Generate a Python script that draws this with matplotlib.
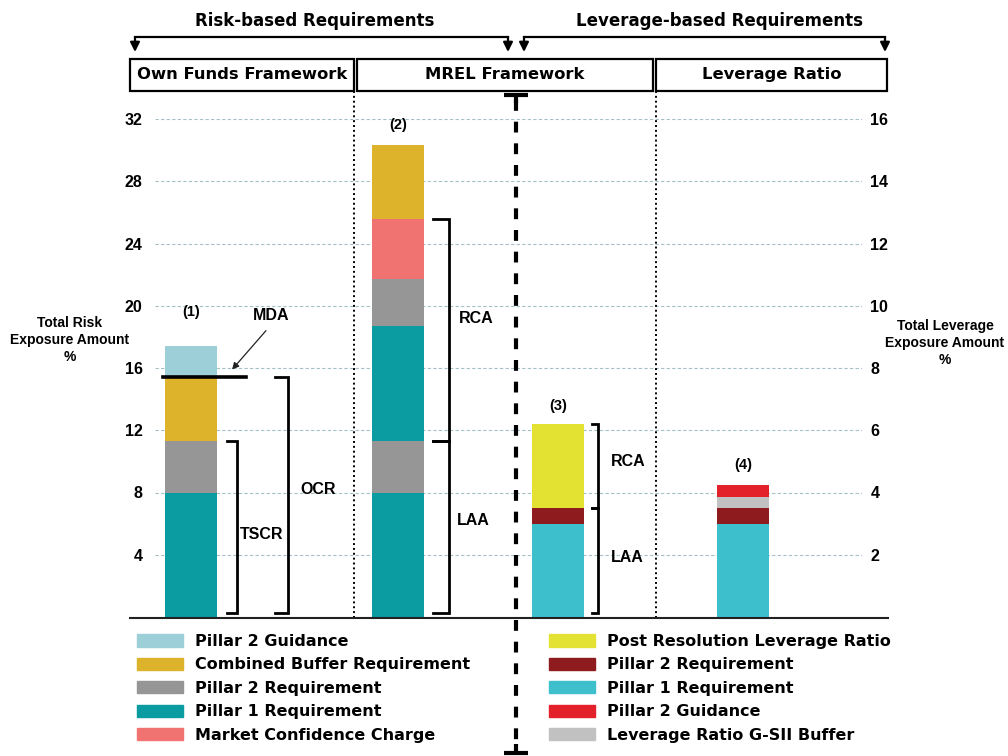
import numpy as np
import matplotlib
matplotlib.use("Agg")
import matplotlib.pyplot as plt
from matplotlib.patches import Rectangle, Patch

# stacked requirement layers, bottom to top
ofr_layers = ["Pillar 1 Requirement", "Pillar 2 Requirement",
              "Combined Buffer Requirement", "Pillar 2 Guidance"]
ofr_values = [8.0, 3.3, 4.1, 2.0]

mrel_layers = ["Pillar 1 Requirement", "Pillar 2 Requirement",
               "Pillar 1 Requirement", "Pillar 2 Requirement",
               "Market Confidence Charge", "Combined Buffer Requirement"]
mrel_values = [8.0, 3.3, 7.4, 3.0, 3.9, 4.7]

# leverage bars use the right hand scale
mrel_lev_layers = ["Pillar 1 Requirement", "Pillar 2 Requirement",
                   "Post Resolution Leverage Ratio"]
mrel_lev_values = [3.0, 0.5, 2.7]

lev_layers = ["Pillar 1 Requirement", "Pillar 2 Requirement",
              "Leverage Ratio G-SII Buffer", "Pillar 2 Guidance"]
lev_values = [3.0, 0.5, 0.35, 0.4]

bar_labels = ["(1)", "(2)", "(3)", "(4)"]
left_ticks = [4, 8, 12, 16, 20, 24, 28, 32]
right_ticks = [2, 4, 6, 8, 10, 12, 14, 16]

risk_colors = {"Pillar 2 Guidance": "#9dcfd9",
               "Combined Buffer Requirement": "#dcb32b",
               "Pillar 2 Requirement": "#969696",
               "Pillar 1 Requirement": "#0a9ca1",
               "Market Confidence Charge": "#f07372"}
lev_colors = {"Post Resolution Leverage Ratio": "#e3e233",
              "Pillar 2 Requirement": "#8e1b1e",
              "Pillar 1 Requirement": "#3dc0cc",
              "Pillar 2 Guidance": "#e2212b",
              "Leverage Ratio G-SII Buffer": "#c1c1c1"}

W, H = 1008, 756
fig = plt.figure(figsize=(W / 100, H / 100), dpi=100)
plt.rcParams['font.family'] = ['Liberation Sans', 'DejaVu Sans']
plt.rcParams['font.weight'] = 'bold'

def fx(px):
	return px / W

def fy(py):
	return 1 - py / H

ax = fig.add_axes([fx(155), fy(617), fx(862) - fx(155), fy(119) - fy(617)])
ax2 = ax.twinx()
ax.set_xlim(0, 10)
ax.set_ylim(0, 32)
ax2.set_ylim(0, 16)

bar_x = [0.51, 3.44, 5.70, 8.32]
bw = 0.735

def stack(axis, x, layers, values, colors):
	bottom = 0.0
	for name, v in zip(layers, values):
		axis.bar(x, v, bw, bottom=bottom, color=colors[name], linewidth=0, zorder=2)
		bottom += v
	return np.cumsum(values)

top1 = stack(ax, bar_x[0], ofr_layers, ofr_values, risk_colors)
top2 = stack(ax, bar_x[1], mrel_layers, mrel_values, risk_colors)
top3 = stack(ax2, bar_x[2], mrel_lev_layers, mrel_lev_values, lev_colors)
top4 = stack(ax2, bar_x[3], lev_layers, lev_values, lev_colors)

for a in (ax, ax2):
	for s in a.spines.values():
		s.set_visible(False)
	a.set_xticks([])
ax.set_yticks(left_ticks)
ax2.set_yticks(right_ticks)
ax.tick_params(axis='y', length=0, pad=9, labelsize=11.5)
ax2.tick_params(axis='y', length=0, pad=6, labelsize=11.5)
ax.grid(axis='y', color='#a6c0c7', lw=0.8, ls=(0, (3, 2)))
ax.set_axisbelow(True)

# square brackets beside the bars
def bracket(axis, x0, x1, y0, y1):
	axis.plot([x0, x1, x1, x0], [y0, y0, y1, y1], color='k', lw=2, zorder=3,
	          solid_joinstyle='miter')

base = 0.25
bracket(ax, 1.02, 1.16, base, top1[1])
bracket(ax, 1.70, 1.88, base, top1[2])
bracket(ax, 3.93, 4.16, base, top2[1])
bracket(ax, 3.93, 4.16, top2[1], top2[4])
bracket(ax2, 6.18, 6.27, base / 2, top3[1])
bracket(ax2, 6.18, 6.27, top3[1], top3[2])

lab = dict(ha='center', va='center', fontsize=11.5, fontweight='bold')
ax.text(1.51, 5.3, "TSCR", **lab)
ax.text(2.31, 8.2, "OCR", **lab)
ax.text(4.54, 19.2, "RCA", **lab)
ax.text(4.50, 6.2, "LAA", **lab)
ax2.text(6.69, 4.98, "RCA", **lab)
ax2.text(6.68, 1.9, "LAA", **lab)

num = dict(ha='center', va='center', fontsize=10.5, fontweight='bold')
ax.text(bar_x[0], 19.6, bar_labels[0], **num)
ax.text(bar_x[1], 31.6, bar_labels[1], **num)
ax2.text(bar_x[2], 6.78, bar_labels[2], **num)
ax2.text(bar_x[3], 4.88, bar_labels[3], **num)

# maximum distributable amount trigger
ax.plot([0.11, 1.29], [top1[2], top1[2]], color='k', lw=2.6, zorder=3)
ax.text(1.64, 19.4, "MDA", **lab)
ax.annotate("", xy=(1.09, 15.9), xytext=(1.57, 18.4),
            arrowprops=dict(arrowstyle='-|>', color='#222222', lw=0.9,
                            mutation_scale=10, shrinkA=0, shrinkB=0))

# overlay in pixel units for frames and dividers
ov = fig.add_axes([0, 0, 1, 1])
ov.set_xlim(0, W)
ov.set_ylim(H, 0)
ov.axis('off')

ov.plot([130, 888], [617.5, 617.5], color='#222222', lw=1.5)
for x in (354, 656):
	ov.plot([x, x], [91, 617], color='k', lw=1.4, ls=(0, (1, 1.5)))
ov.plot([516, 516], [100, 748], color='k', lw=3, ls=(0, (2.6, 2.6)))
for y0, y1 in ((95, 103), (753, 744)):
	ov.plot([504, 528], [y0, y0], color='k', lw=3, solid_capstyle='butt')
	ov.plot([516, 516], [y0, y1], color='k', lw=3, solid_capstyle='butt')

head = dict(ha='center', va='center', fontsize=11.8, fontweight='bold',
            family='DejaVu Sans')
for (x0, x1), name in zip(((130, 354), (357, 653), (656, 887)),
                          ("Own Funds Framework", "MREL Framework", "Leverage Ratio")):
	ov.add_patch(Rectangle((x0, 59), x1 - x0, 32, fill=False, lw=1.6, ec='k'))
	ov.text((x0 + x1) / 2, 74.5, name, **head)

arr = dict(arrowstyle='-|>', color='k', lw=1.6, mutation_scale=14, shrinkA=0, shrinkB=0)
for (x0, x1), name, tx in (((135, 508), "Risk-based Requirements", 315),
                           ((524, 885), "Leverage-based Requirements", 720)):
	ov.plot([x0, x1], [37, 37], color='k', lw=1.6, solid_capstyle='projecting')
	for x in (x0, x1):
		ov.annotate("", xy=(x, 52), xytext=(x, 37), arrowprops=arr)
	ov.text(tx, 21, name, ha='center', va='center', fontsize=12,
	        fontweight='bold', family='DejaVu Sans')

ov.text(70, 340, "Total Risk\nExposure Amount\n%", ha='center', va='center',
        fontsize=10, fontweight='bold', linespacing=1.25)
ov.text(945, 343, "Total Leverage\nExposure Amount\n%", ha='center', va='center',
        fontsize=10, fontweight='bold', linespacing=1.25)

risk_legend = ["Pillar 2 Guidance", "Combined Buffer Requirement",
               "Pillar 2 Requirement", "Pillar 1 Requirement",
               "Market Confidence Charge"]
lev_legend = ["Post Resolution Leverage Ratio", "Pillar 2 Requirement",
              "Pillar 1 Requirement", "Pillar 2 Guidance",
              "Leverage Ratio G-SII Buffer"]

leg_kw = dict(loc='upper left', frameon=False, borderpad=0, borderaxespad=0,
              handlelength=2.87, handleheight=0.8, handletextpad=0.75,
              labelspacing=0.53, prop={'family': 'DejaVu Sans', 'weight': 'bold', 'size': 11.5})
fig.legend([Patch(color=risk_colors[n]) for n in risk_legend], risk_legend,
           bbox_to_anchor=(fx(137), fy(634)), **leg_kw)
fig.legend([Patch(color=lev_colors[n]) for n in lev_legend], lev_legend,
           bbox_to_anchor=(fx(549), fy(634)), **leg_kw)

fig.savefig("out.png", dpi=100)
